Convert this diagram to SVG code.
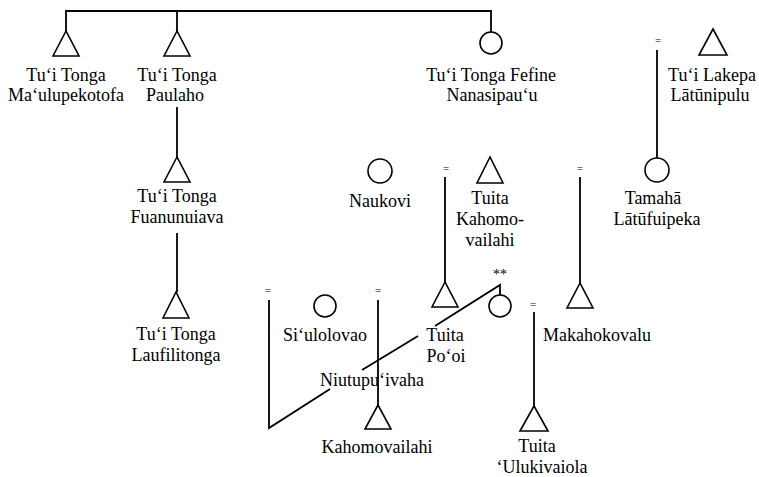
<svg xmlns="http://www.w3.org/2000/svg" width="759" height="477" viewBox="0 0 759 477">
  <style>
    .bg { fill: #ffffff; }
    .line { fill: none; stroke: #000; stroke-width: 1.8; }
    .male, .female { fill: none; stroke: #000; stroke-width: 1.6; }
    text { font-family: "Liberation Serif", "Times New Roman", serif; font-size: 18px; fill: #000; text-anchor: middle; }
    .eq { font-size: 11px; }
    .star { font-size: 14px; }
  </style>
  <rect class="bg" x="0" y="0" width="759" height="477"/>

  <!-- descent and marriage lines -->
  <g id="connectors">
    <path class="line" d="M66 31 V11 H491 V32"/>
    <path class="line" d="M177 11 V31"/>
    <path class="line" d="M177 107 V157"/>
    <path class="line" d="M177 233 V292"/>
    <path class="line" d="M657 50 V158"/>
    <path class="line" d="M445 177 V282"/>
    <path class="line" d="M580 177 V283"/>
    <path class="line" d="M378 300 V405"/>
    <path class="line" d="M534 312 V406"/>
    <path class="line" d="M269 300 V428 L330 389"/>
    <path class="line" d="M362 370 L418 336"/>
    <path class="line" d="M435 326 L500 285 V295"/>
    <text class="eq" x="658" y="44">=</text>
    <text class="eq" x="446" y="172">=</text>
    <text class="eq" x="580" y="172">=</text>
    <text class="eq" x="268" y="294">=</text>
    <text class="eq" x="378" y="294">=</text>
    <text class="eq" x="533" y="308">=</text>
    <text class="star" x="500" y="279">**</text>
  </g>

  <g id="maulupekotofa">
    <polygon class="male" points="66,31 53,56 79,56"/>
    <text x="66" y="81">Tu‘i Tonga</text>
    <text x="66" y="101">Ma‘ulupekotofa</text>
  </g>
  <g id="paulaho">
    <polygon class="male" points="177,31 164,56 190,56"/>
    <text x="177" y="81">Tu‘i Tonga</text>
    <text x="175" y="101">Paulaho</text>
  </g>
  <g id="nanasipauu">
    <circle class="female" cx="491" cy="43" r="11"/>
    <text x="491" y="81">Tu‘i Tonga Fefine</text>
    <text x="492" y="101">Nanasipau‘u</text>
  </g>
  <g id="latunipulu">
    <polygon class="male" points="713,29 699,55 727,55"/>
    <text x="712" y="81">Tu‘i Lakepa</text>
    <text x="710" y="101">Lātūnipulu</text>
  </g>
  <g id="fuanunuiava">
    <polygon class="male" points="177,157 164,182 190,182"/>
    <text x="177" y="202">Tu‘i Tonga</text>
    <text x="177" y="223">Fuanunuiava</text>
  </g>
  <g id="laufilitonga">
    <polygon class="male" points="176,292 163,318 189,318"/>
    <text x="176" y="340">Tu‘i Tonga</text>
    <text x="176" y="361">Laufilitonga</text>
  </g>
  <g id="naukovi">
    <circle class="female" cx="380" cy="171" r="12"/>
    <text x="380" y="207">Naukovi</text>
  </g>
  <g id="tuita-kahomovailahi">
    <polygon class="male" points="490,157 477,183 503,183"/>
    <text x="490" y="204">Tuita</text>
    <text x="490" y="225">Kahomo-</text>
    <text x="490" y="246">vailahi</text>
  </g>
  <g id="latufuipeka">
    <circle class="female" cx="657" cy="170" r="12"/>
    <text x="653" y="204">Tamahā</text>
    <text x="657" y="225">Lātūfuipeka</text>
  </g>
  <g id="siulolovao">
    <circle class="female" cx="325" cy="306" r="11"/>
    <text x="325" y="341">Si‘ulolovao</text>
  </g>
  <g id="tuita-pooi">
    <polygon class="male" points="445,282 432,307 458,307"/>
    <text x="445" y="341">Tuita</text>
    <text x="446" y="362">Po‘oi</text>
  </g>
  <g id="wife-of-pooi">
    <circle class="female" cx="500" cy="306" r="11"/>
  </g>
  <g id="niutupuivaha">
    <text x="372" y="386">Niutupu‘ivaha</text>
  </g>
  <g id="makahokovalu">
    <polygon class="male" points="580,283 567,308 593,308"/>
    <text x="597" y="341">Makahokovalu</text>
  </g>
  <g id="kahomovailahi">
    <polygon class="male" points="378,405 365,429 391,429"/>
    <text x="377" y="453">Kahomovailahi</text>
  </g>
  <g id="ulukivaiola">
    <polygon class="male" points="534,406 520,431 548,431"/>
    <text x="537" y="452">Tuita</text>
    <text x="542" y="473">‘Ulukivaiola</text>
  </g>
</svg>
